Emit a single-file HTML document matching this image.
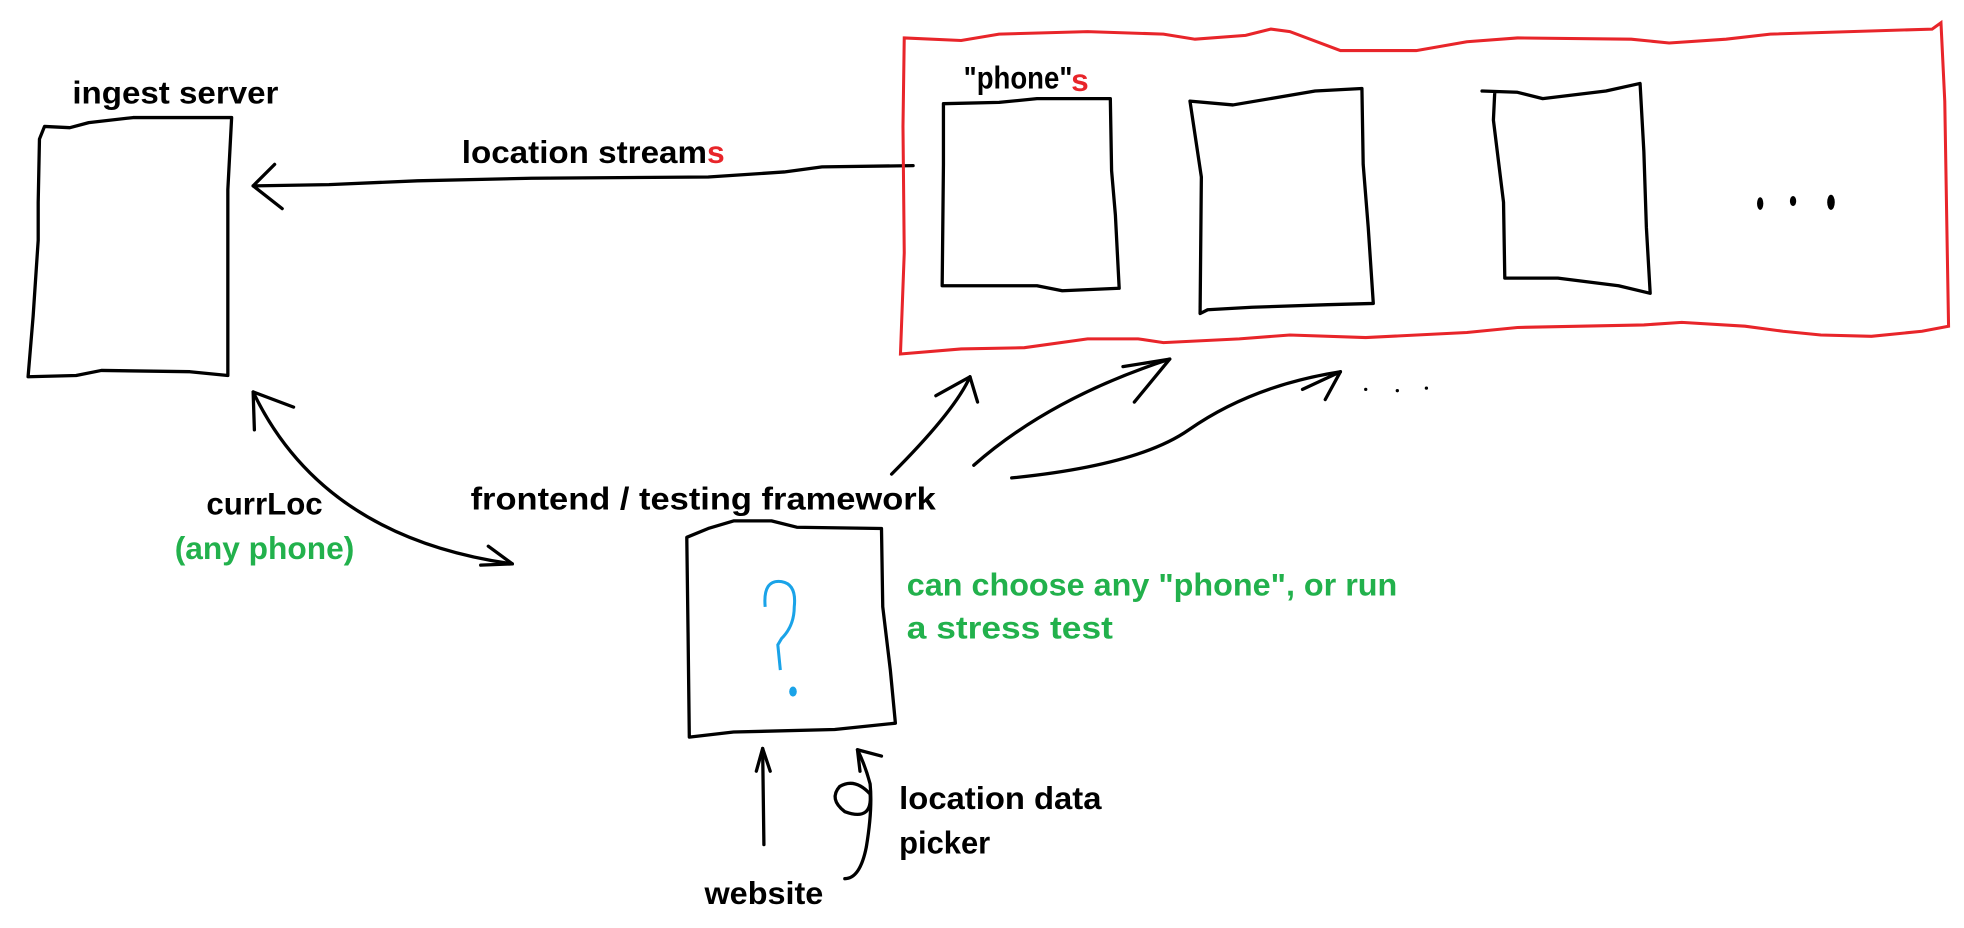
<!DOCTYPE html>
<html><head><meta charset="utf-8"><style>
html,body{margin:0;padding:0;background:#fff;}
svg{display:block}
text{font-family:"Liberation Sans",sans-serif;font-weight:bold;font-size:25px;}
</style></head><body>
<svg width="1964" height="928" viewBox="0 0 1553 734" xmlns="http://www.w3.org/2000/svg">
<g fill="none" stroke="#000" stroke-width="2.6" stroke-linecap="round" stroke-linejoin="round">
<path d="M35,100 L55,101 L70,97 L105,93 L183,93 L180,150 L180,297 L150,294 L80,293 L60,297 L22,298 L26,250 L30,190 L30,160 L31,110 Z"/>
<path d="M722,131 L650,132 L620,136 L560,140 L420,141 L330,143 L260,146 L200,147"/>
<path d="M217,130 L200,147 L223,165"/>
<path d="M746,82 L790,81 L820,78 L878,78 L879,135 L882,170 L885,228 L840,230 L820,226 L745,226 L746,130 Z"/>
<path d="M941,80 L975,83 L1040,72 L1077,70 L1078,130 L1082,180 L1086,240 L1050,241 L990,243 L955,245 L949,248 L950,140 Z"/>
<path d="M1172,72 L1200,73 L1220,78 L1270,72 L1297,66 L1300,120 L1302,180 L1305,232 L1280,226 L1232,220 L1190,220 L1189,160 L1181,95 L1182,74"/>
<path d="M705,375 Q755,325 767,298"/><path d="M740,313 L767,298 L773,318"/>
<path d="M770,368 Q830,315 925,284"/><path d="M888,290 L925,284 L897,318"/>
<path d="M800,378 Q900,368 940,340 Q990,305 1060,294"/><path d="M1030,308 L1060,294 L1048,316"/>
<path d="M200,310 Q255,425 405,446"/>
<path d="M232,322 L200,310 L201,340"/>
<path d="M380,447 L405,446 L386,432"/>
<path d="M543,425 L560,418 L580,412 L610,412 L630,417 L697,418 L698,480 L704,530 L708,572 L660,577 L580,579 L545,583 L544,500 Z"/>
<path d="M604,668 L603,592"/><path d="M598,610 L603,592 L609,610"/>
<path d="M668,695 Q680,695 685,670 Q690,640 688,620 Q684,605 678,593"/>
<path d="M688,628 Q676,615 664,622 Q655,632 668,642 Q690,650 688,628"/>
<path d="M680,610 L678,593 L697,598"/>
</g>
<path fill="none" stroke="#e8252a" stroke-width="2.4" d="M715,30 L760,32 L790,27 L860,25 L920,27 L945,31 L985,28 L1005,23 L1020,25 L1060,40 L1120,40 L1160,33 L1200,30 L1290,31 L1320,34 L1365,31 L1400,27 L1528,23 L1535,18 L1538,80 L1540,200 L1541,258 L1520,262 L1480,266 L1440,265 L1410,262 L1380,258 L1330,255 L1300,257 L1200,259 L1160,263 L1080,267 L1020,265 L980,268 L920,271 L900,268 L860,268 L810,275 L760,276 L712,280 L715,200 L714,100 Z"/>
<g fill="#000"><ellipse cx="1392" cy="161" rx="2.5" ry="5"/><ellipse cx="1418" cy="159" rx="2.5" ry="4"/><ellipse cx="1448" cy="160" rx="3" ry="6"/>
<circle cx="1080" cy="308" r="1.3"/><circle cx="1105" cy="309" r="1.3"/><circle cx="1128" cy="307" r="1.3"/></g>
<path fill="none" stroke="#1aa3e8" stroke-width="2.4" d="M605,480 Q603,458 618,460 Q630,462 628,480 Q628,495 618,505 L615,510 Q616,520 617,530"/>
<ellipse cx="627" cy="547" rx="3" ry="4" fill="#1aa3e8"/>
<g lengthAdjust="spacingAndGlyphs">
<text x="57" y="82" textLength="163" lengthAdjust="spacingAndGlyphs">ingest server</text>
<text x="365" y="129" textLength="194" lengthAdjust="spacingAndGlyphs">location stream</text><text x="559" y="129" fill="#e8252a" textLength="14" lengthAdjust="spacingAndGlyphs">s</text>
<text x="762" y="70" textLength="86" lengthAdjust="spacingAndGlyphs">"phone"</text><text x="847" y="72" fill="#e8252a" font-size="20">s</text>
<text x="163" y="407" textLength="92" lengthAdjust="spacingAndGlyphs">currLoc</text>
<text x="138" y="442" fill="#22b14c" textLength="142" lengthAdjust="spacingAndGlyphs">(any phone)</text>
<text x="372" y="403" textLength="368" lengthAdjust="spacingAndGlyphs">frontend / testing framework</text>
<text x="717" y="471" fill="#22b14c" textLength="388" lengthAdjust="spacingAndGlyphs">can choose any "phone", or run</text>
<text x="717" y="505" fill="#22b14c" textLength="163" lengthAdjust="spacingAndGlyphs">a stress test</text>
<text x="711" y="640" textLength="160" lengthAdjust="spacingAndGlyphs">location data</text>
<text x="711" y="675" textLength="72" lengthAdjust="spacingAndGlyphs">picker</text>
<text x="557" y="715" textLength="94" lengthAdjust="spacingAndGlyphs">website</text>
</g>
</svg>
</body></html>
